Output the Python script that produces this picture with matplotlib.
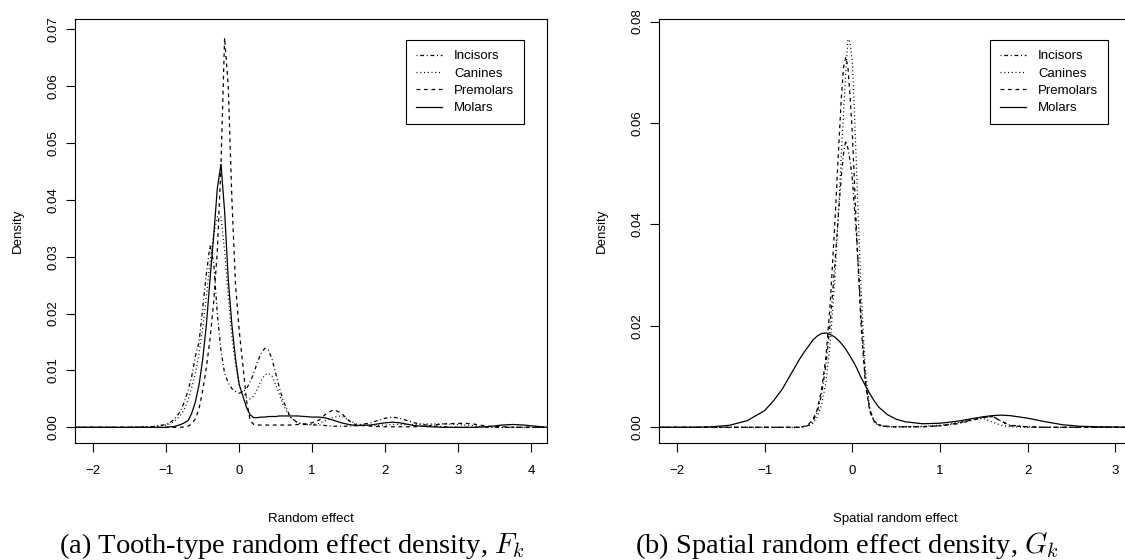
import matplotlib
matplotlib.use('Agg')
import matplotlib.pyplot as plt
from matplotlib.ticker import FormatStrFormatter

plt.rcParams['font.family'] = ['Liberation Sans', 'DejaVu Sans']
plt.rcParams['mathtext.fontset'] = 'cm'

labels = ['Incisors', 'Canines', 'Premolars', 'Molars']

# (a) tooth-type random effect density
xa = [-2.25, -1.5, -1.2, -1.0, -0.95, -0.9, -0.85, -0.8, -0.75, -0.7,
      -0.65, -0.6, -0.55, -0.5, -0.45, -0.4, -0.35, -0.3, -0.25, -0.2,
      -0.15, -0.1, -0.05, 0.0, 0.05, 0.1, 0.15, 0.2, 0.25, 0.3,
      0.35, 0.4, 0.45, 0.5, 0.55, 0.6, 0.7, 0.8, 0.9, 1.0,
      1.1, 1.2, 1.3, 1.4, 1.5, 1.6, 1.8, 2.0, 2.1, 2.2,
      2.4, 2.6, 2.8, 3.0, 3.1, 3.2, 3.4, 3.6, 3.75, 3.9,
      4.22]
incisors_a = [0, 0, 0.0001, 0.0005, 0.0008, 0.0013, 0.002, 0.003, 0.0045, 0.0065,
              0.009, 0.0125, 0.015, 0.021, 0.027, 0.032, 0.029, 0.020, 0.0135, 0.0095,
              0.0078, 0.0068, 0.0063, 0.006, 0.0062, 0.0068, 0.008, 0.0095, 0.0115, 0.013,
              0.0139, 0.0136, 0.012, 0.0095, 0.007, 0.0048, 0.0018, 0.0008, 0.0005, 0.0004,
              0.0004, 0.0003, 0.0002, 0.0002, 0.0002, 0.0003, 0.0008, 0.0016, 0.0018, 0.0016,
              0.0008, 0.0003, 0.0001, 0, 0, 0, 0, 0, 0, 0,
              0]
canines_a = [0, 0, 0.0001, 0.0004, 0.0006, 0.001, 0.0015, 0.0022, 0.0032, 0.0048,
             0.007, 0.0095, 0.013, 0.0175, 0.023, 0.029, 0.034, 0.037, 0.037, 0.031,
             0.023, 0.016, 0.011, 0.0075, 0.006, 0.0052, 0.005, 0.0055, 0.0068, 0.0082,
             0.0092, 0.0095, 0.009, 0.0075, 0.0058, 0.004, 0.0018, 0.0008, 0.0005, 0.0005,
             0.0007, 0.0013, 0.0018, 0.002, 0.0013, 0.0006, 0.0003, 0.0004, 0.0005, 0.0005,
             0.0005, 0.0006, 0.0006, 0.0005, 0.0004, 0.0003, 0.0001, 0, 0, 0,
             0]
premolars_a = [0, 0, 0, 0, 0, 0, 0, 0, 0.0001, 0.0002,
               0.0006, 0.0015, 0.0033, 0.0065, 0.0105, 0.0155, 0.022, 0.031, 0.046, 0.0685,
               0.060, 0.040, 0.025, 0.017, 0.011, 0.0047, 0.0012, 0.0005, 0.0004, 0.0004,
               0.0004, 0.0004, 0.0004, 0.0004, 0.0004, 0.0004, 0.0004, 0.0005, 0.0006, 0.0008,
               0.0013, 0.0025, 0.0031, 0.0025, 0.0012, 0.0004, 0.0002, 0.0001, 0.0001, 0.0001,
               0.0001, 0.0003, 0.0006, 0.0007, 0.0007, 0.0006, 0.0002, 0.0001, 0, 0,
               0]
molars_a = [0, 0, 0, 0, 0.0001, 0.0001, 0.0003, 0.0005, 0.0008, 0.0012,
            0.0025, 0.0045, 0.0075, 0.012, 0.018, 0.026, 0.0336, 0.042, 0.0463, 0.038,
            0.026, 0.018, 0.012, 0.0075, 0.0055, 0.0035, 0.0022, 0.0017, 0.0017, 0.0018,
            0.0018, 0.0019, 0.0019, 0.0019, 0.002, 0.002, 0.002, 0.002, 0.0019, 0.0018,
            0.0018, 0.0016, 0.0012, 0.0008, 0.0005, 0.0003, 0.0004, 0.0008, 0.0009, 0.0008,
            0.0003, 0.0001, 0, 0, 0, 0, 0.0001, 0.0004, 0.0005, 0.0004,
            0]

# (b) spatial random effect density
xb = [-2.205, -1.8, -1.6, -1.4, -1.2, -1.0, -0.9, -0.8, -0.7, -0.6,
      -0.55, -0.5, -0.45, -0.4, -0.35, -0.3, -0.25, -0.2, -0.15, -0.125,
      -0.1, -0.075, -0.05, -0.025, 0.0, 0.025, 0.05, 0.1, 0.15, 0.2,
      0.25, 0.3, 0.4, 0.5, 0.6, 0.8, 1.0, 1.2, 1.4, 1.5,
      1.6, 1.7, 1.8, 2.0, 2.2, 2.4, 2.6, 2.8, 3.18]
incisors_b = [0, 0, 0, 0, 0, 0, 0, 0, 0, 0,
              0.0001, 0.0004, 0.0012, 0.003, 0.0065, 0.0125, 0.021, 0.032, 0.044, 0.0495,
              0.054, 0.0565, 0.055, 0.0525, 0.049, 0.043, 0.037, 0.022, 0.009, 0.0035,
              0.0012, 0.0004, 0.0001, 0.0001, 0.0001, 0.0001, 0.0003, 0.0007, 0.0015, 0.0019,
              0.0022, 0.0012, 0.0004, 0.0001, 0, 0, 0, 0, 0]
canines_b = [0, 0, 0, 0, 0, 0, 0, 0, 0, 0,
             0.0001, 0.0003, 0.0008, 0.002, 0.0045, 0.009, 0.017, 0.029, 0.045, 0.054,
             0.062, 0.070, 0.0765, 0.076, 0.072, 0.062, 0.050, 0.027, 0.011, 0.0035,
             0.001, 0.0003, 0.0001, 0.0001, 0.0001, 0.0002, 0.0004, 0.0009, 0.0018, 0.0017,
             0.001, 0.0004, 0.0001, 0, 0, 0, 0, 0, 0]
premolars_b = [0, 0, 0, 0, 0, 0, 0, 0, 0, 0,
               0.0002, 0.0006, 0.0015, 0.0035, 0.0075, 0.014, 0.025, 0.040, 0.057, 0.065,
               0.071, 0.073, 0.071, 0.065, 0.058, 0.048, 0.038, 0.020, 0.0085, 0.003,
               0.0012, 0.0005, 0.0002, 0.0001, 0.0001, 0.0001, 0.0003, 0.0008, 0.0016, 0.002,
               0.0021, 0.0012, 0.0003, 0.0001, 0, 0, 0, 0, 0]
molars_b = [0, 0, 0.0001, 0.0004, 0.0013, 0.0033, 0.0052, 0.0075, 0.0105, 0.0135,
            0.0148, 0.016, 0.0172, 0.018, 0.0185, 0.0186, 0.0183, 0.0178, 0.017, 0.0165,
            0.016, 0.0154, 0.0147, 0.014, 0.0133, 0.0125, 0.0117, 0.0098, 0.0082, 0.0066,
            0.0052, 0.004, 0.0025, 0.0016, 0.0011, 0.0007, 0.0008, 0.0012, 0.0018, 0.0021,
            0.0023, 0.0024, 0.0023, 0.0018, 0.0011, 0.0005, 0.0002, 0.0001, 0]

styles = [(0, (0.8, 2.2, 3.0, 2.2)), (0, (0.8, 2.2)), (0, (3.0, 3.0)), '-']


def draw(ax, x, series, xlim, ylim, xticks, yticks, xlabel):
    for y, ls, lab in zip(series, styles, labels):
        ax.plot(x, y, color='black', linestyle=ls, linewidth=0.9, label=lab)
    ax.set_xlim(xlim)
    ax.set_ylim(ylim)
    ax.set_xticks(xticks)
    ax.set_yticks(yticks)
    ax.yaxis.set_major_formatter(FormatStrFormatter('%.2f'))
    ax.tick_params(direction='out', length=6.5, width=0.8, labelsize=9.5)
    ax.tick_params(axis='x', pad=9)
    ax.tick_params(axis='y', pad=5)
    plt.setp(ax.get_yticklabels(), rotation=90, va='center')
    for s in ax.spines.values():
        s.set_linewidth(0.8)
    ax.set_xlabel(xlabel, fontsize=9.5, va='center')
    ax.xaxis.set_label_coords(0.5, -0.18)
    ax.set_ylabel('Density', fontsize=9.5, va='center')
    ax.yaxis.set_label_coords(-0.121, 0.5)
    leg = ax.legend(loc='upper right', bbox_to_anchor=(0.951, 0.95), borderaxespad=0,
                    fancybox=False, edgecolor='black', framealpha=1, fontsize=9.5,
                    handlelength=2.0, handletextpad=0.9, labelspacing=0.38, borderpad=0.75)
    leg.get_frame().set_linewidth(0.8)


fig = plt.figure(figsize=(11.25, 5.6), dpi=100)
ax1 = fig.add_axes([0.0667, 0.2089, 0.4196, 0.7571])
ax2 = fig.add_axes([0.5858, 0.2089, 0.4196, 0.7571])

draw(ax1, xa, [incisors_a, canines_a, premolars_a, molars_a],
     (-2.25, 4.22), (-0.00276, 0.0718), [-2, -1, 0, 1, 2, 3, 4],
     [0, 0.01, 0.02, 0.03, 0.04, 0.05, 0.06, 0.07], 'Random effect')
draw(ax2, xb, [incisors_b, canines_b, premolars_b, molars_b],
     (-2.205, 3.18), (-0.0031, 0.0805), [-2, -1, 0, 1, 2, 3],
     [0, 0.02, 0.04, 0.06, 0.08], 'Spatial random effect')

fig.text(292 / 1125, 7 / 560, r'(a) Tooth-type random effect density, $F_k$',
         ha='center', va='baseline', fontsize=20.5, family='Liberation Serif')
fig.text(847 / 1125, 7 / 560, r'(b) Spatial random effect density, $G_k$',
         ha='center', va='baseline', fontsize=20.5, family='Liberation Serif')

fig.savefig('out.png', dpi=100)
